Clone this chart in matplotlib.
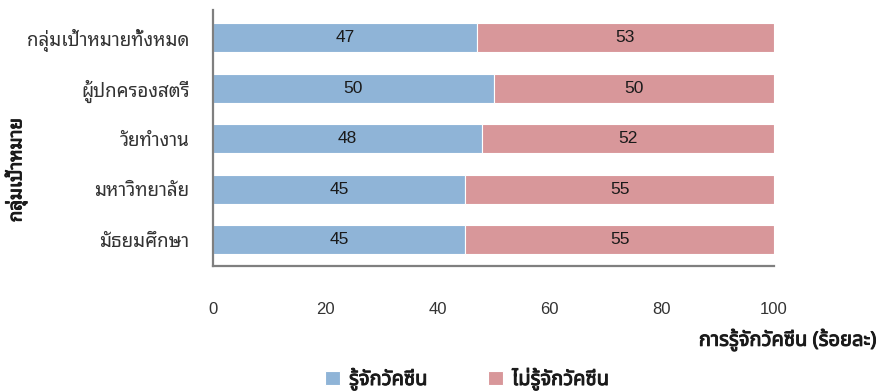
import matplotlib
matplotlib.use("Agg")
import matplotlib.pyplot as plt
import matplotlib.patheffects as pe

# กลุ่มเป้าหมาย (bottom to top) and awareness shares in percent
groups = ["มัธยมศึกษา", "มหาวิทยาลัย", "วัยทำงาน", "ผู้ปกครองสตรี", "กลุ่มเป้าหมายทั้งหมด"]
know = [45, 45, 48, 50, 47]
dont_know = [55, 55, 52, 50, 53]
xticks = [0, 20, 40, 60, 80, 100]

thai = ["Noto Sans Thai Looped", "Liberation Sans"]
thai_plain = ["Noto Sans Thai", "Liberation Sans"]
narrow = ["Liberation Sans Narrow", "Liberation Sans"]
blue = "#8fb4d7"
pink = "#d8979a"
ink = "#1a1a1a"
# thin outline in the text colour to thicken strokes of the bold labels
heavy = [pe.withStroke(linewidth=0.7, foreground=ink)]

fig = plt.figure(figsize=(8.81, 3.92), dpi=100)
ax = fig.add_axes([0.2418, 0.3214, 0.6368, 0.6531])

y = range(len(groups))
b1 = ax.barh(y, know, height=0.57, color=blue, edgecolor="white", linewidth=0.8)
b2 = ax.barh(y, dont_know, left=know, height=0.57, color=pink, edgecolor="white", linewidth=0.8)
for bars in (b1, b2):
    ax.bar_label(bars, label_type="center", fontsize=12.5, family="Liberation Sans", color=ink)

ax.set_xlim(0, 100)
ax.set_ylim(-0.52, 4.55)
ax.set_xticks(xticks)
ax.set_xticklabels([str(t) for t in xticks], family=narrow, fontsize=12, color="#333333")
ax.set_yticks(list(y))
ax.set_yticklabels(groups, family=thai, fontsize=13.5, color="#333333")
ax.tick_params(axis="x", length=0, pad=26)
ax.tick_params(axis="y", length=0, pad=17)

for s in ("top", "right"):
    ax.spines[s].set_visible(False)
for s in ("left", "bottom"):
    ax.spines[s].set_color("#7f7f7f")
    ax.spines[s].set_linewidth(1.6)

fig.text(0.018, 0.566, "กลุ่มเป้าหมาย", rotation=90, ha="center", va="center",
         family=thai, fontsize=13.5, color=ink, path_effects=heavy)
fig.text(0.995, 0.133, "การรู้จักวัคซีน (ร้อยละ)", ha="right", va="center",
         family=thai_plain, fontsize=14.5, color=ink, path_effects=heavy)

leg = fig.legend([b1, b2], ["รู้จักวัคซีน", "ไม่รู้จักวัคซีน"], loc="center",
                 bbox_to_anchor=(0.53, 0.033), ncol=2, frameon=False,
                 handlelength=0.75, handleheight=0.75, columnspacing=3.0, handletextpad=0.45,
                 prop={"family": thai_plain, "size": 14.5})
for t in leg.get_texts():
    t.set_color(ink)
    t.set_path_effects(heavy)

fig.savefig("out.png", dpi=100)
